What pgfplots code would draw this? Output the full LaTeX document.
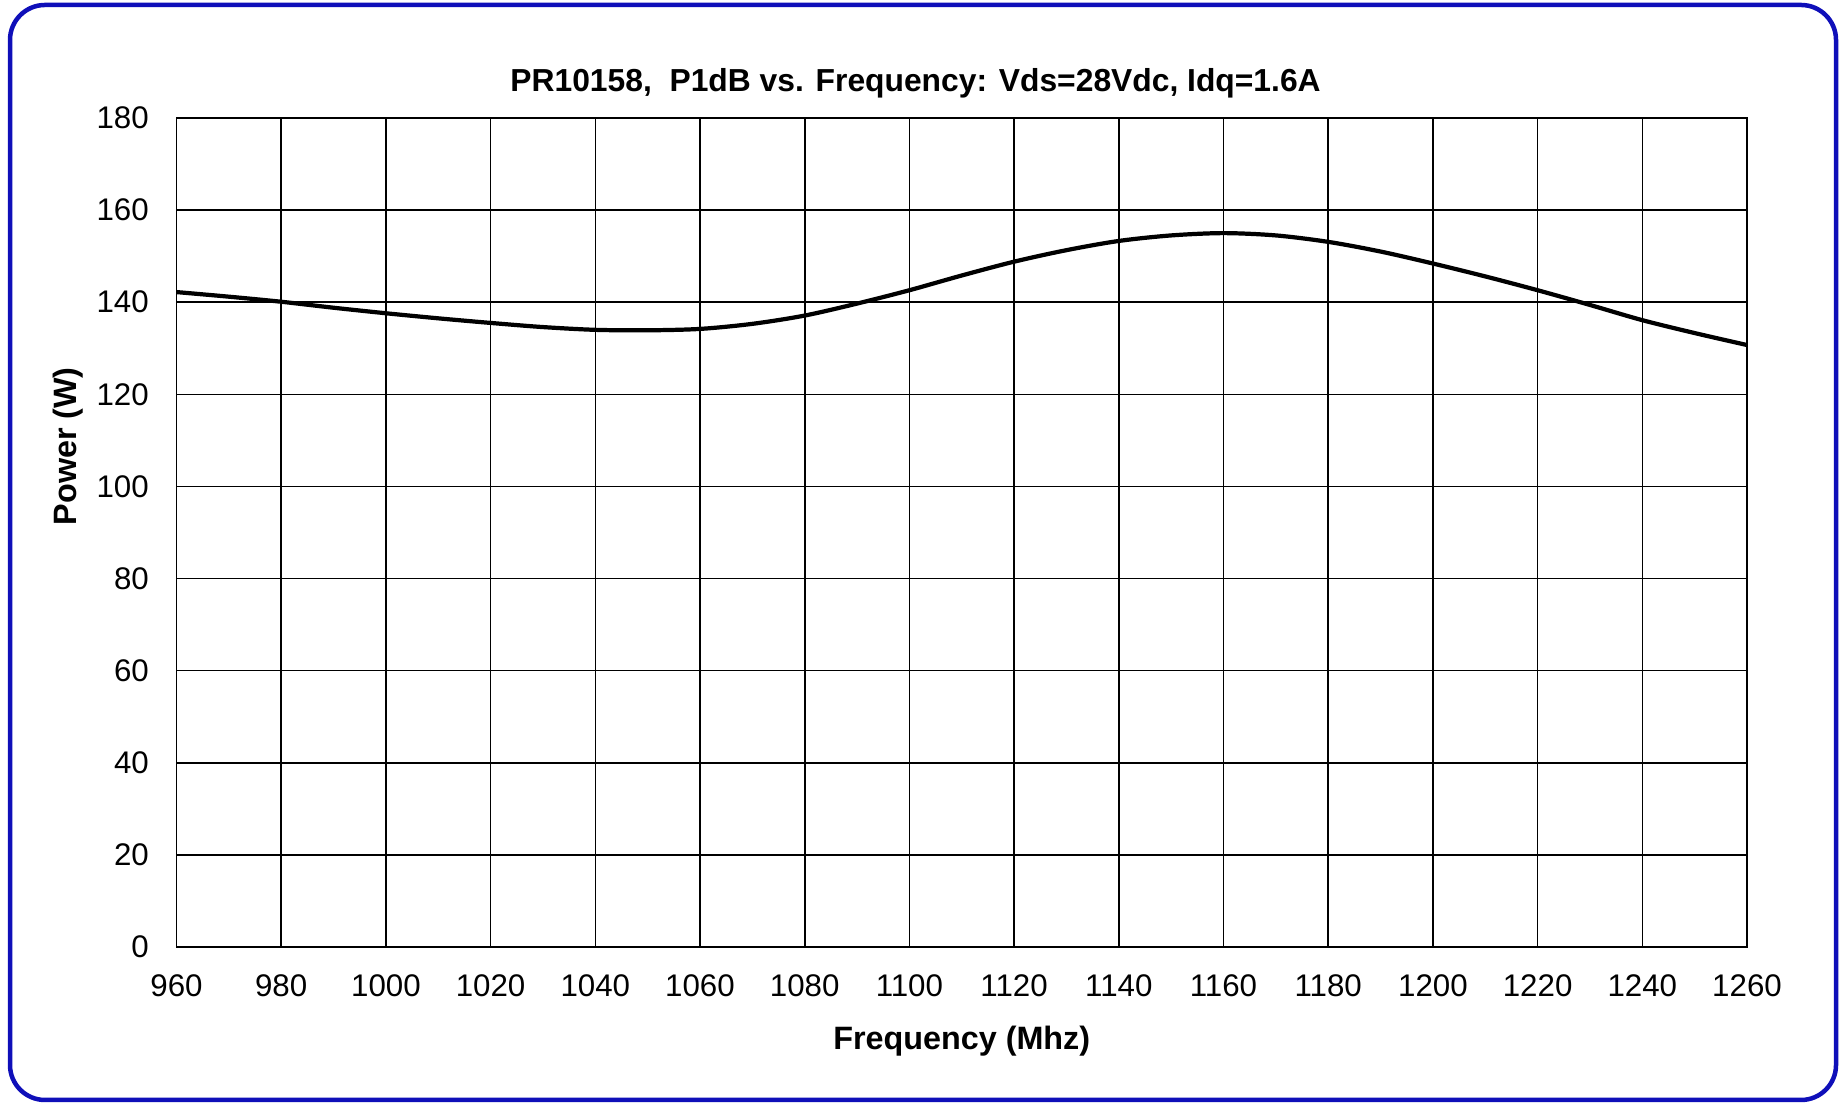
\documentclass[border=0pt]{standalone}
\usepackage{pgfplots}
\pgfplotsset{compat=1.18}
\usepackage{fontspec}
\setmainfont{Liberation Sans}
\definecolor{frameblue}{RGB}{15,15,185}
\begin{document}
\begin{tikzpicture}
\path[use as bounding box] (0,0) rectangle (18.45cm,11.04cm);
\draw[frameblue, line width=0.45mm, rounded corners=0.35cm] (0.10cm,0.04cm) rectangle (18.36cm,10.99cm);
\begin{axis}[
  at={(1.765cm,1.57cm)}, anchor=south west,
  width=15.705cm, height=8.29cm, scale only axis,
  xmin=960, xmax=1260, ymin=0, ymax=180,
  xtick={960,980,...,1260}, ytick={0,20,...,180},
  grid=major, major grid style={black, line width=0.45pt},
  axis line style={black, line width=0.5pt},
  major tick length=0pt,
  /pgf/number format/assume math mode=true,
  /pgf/number format/1000 sep={},
  tick label style={font=\fontsize{8.9}{11}\selectfont},
  xticklabel style={anchor=center, yshift=-0.39cm},
  yticklabel style={anchor=east, inner sep=0pt, xshift=-0.27cm},
  title={PR10158,\ \ P1dB vs. Frequency: Vds=28Vdc, Idq=1.6A},
  title style={font=\bfseries\fontsize{9.05}{11}\selectfont, at={(0.4706,1)}, anchor=center, yshift=0.14cm},
  xlabel={Frequency (Mhz)},
  xlabel style={font=\bfseries\fontsize{9.2}{11}\selectfont, at={(0.5,0)}, anchor=center, yshift=-0.945cm},
  ylabel={Power (W)},
  ylabel style={font=\bfseries\fontsize{9.2}{11}\selectfont, at={(0,0.604)}, anchor=center, yshift=1.08cm},
  clip=false,
]
\addplot[black, line width=1.2pt, smooth] coordinates {
(960,142.2) (970,141.2) (980,140.1) (990,138.8) (1000,137.6) (1010,136.5)
(1020,135.5) (1030,134.6) (1040,134.0) (1050,133.9) (1060,134.2) (1070,135.3)
(1080,137.1) (1090,139.7) (1100,142.6) (1110,145.8) (1120,148.8) (1130,151.3)
(1140,153.3) (1150,154.5) (1160,155.0) (1170,154.5) (1180,153.1) (1190,151.0)
(1200,148.4) (1210,145.6) (1220,142.6) (1230,139.4) (1240,136.1) (1250,133.3)
(1260,130.7)
};
\end{axis}
\end{tikzpicture}
\end{document}
